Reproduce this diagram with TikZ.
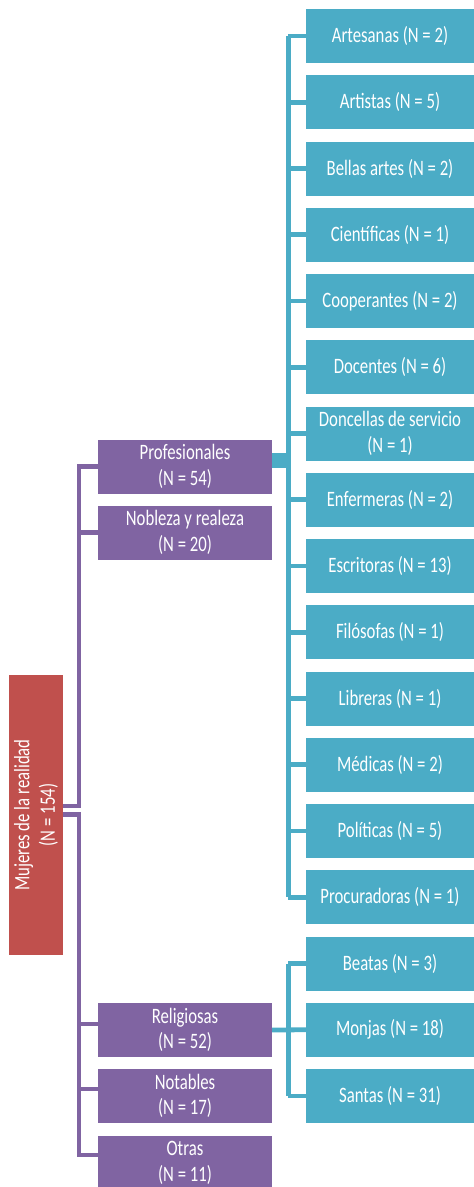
\documentclass[tikz,border=0pt]{standalone}
\usepackage{fontspec}
\setmainfont{Carlito}[FakeStretch=0.76]
\definecolor{pcol}{RGB}{128,100,162}
\definecolor{tcol}{RGB}{75,172,198}
\definecolor{rcol}{RGB}{192,80,77}
\begin{document}
\begin{tikzpicture}[x=1pt,y=-1pt,
  box/.style={rectangle, inner sep=0pt, text=white, align=center, font=\fontsize{22}{25.5}\selectfont},
  pbox/.style={box, fill=pcol, minimum width=174pt, minimum height=54pt},
  tbox/.style={box, fill=tcol, minimum width=168pt, minimum height=54pt},
  rbox/.style={box, fill=rcol, minimum width=280pt, minimum height=54pt, rotate=90},
  pline/.style={draw=pcol, line width=4.5pt},
  tline/.style={draw=tcol, line width=4.8pt}]
\useasboundingbox (0,0) rectangle (474,1187);
\clip (0,0) rectangle (474,1187);
% root
\node[rbox] (root) at (36,815) {Mujeres de la realidad\\(N = 154)};
% purple level
\node[pbox] (p1) at (185,466.5) {Profesionales\\(N = 54)};
\node[pbox] (p2) at (185,532.5) {Nobleza y realeza\\(N = 20)};
\node[pbox] (p3) at (185,1030) {Religiosas\\(N = 52)};
\node[pbox] (p4) at (185,1096) {Notables\\(N = 17)};
\node[pbox] (p5) at (185,1163) {Otras\\(N = 11)};
% teal level
\foreach \i/\t in {1/Artesanas (N = 2),2/Artistas (N = 5),3/Bellas artes (N = 2),4/Científicas (N = 1),5/Cooperantes (N = 2),6/Docentes (N = 6),7/{Doncellas de servicio\\(N = 1)},8/Enfermeras (N = 2),9/Escritoras (N = 13),10/Filósofas (N = 1),11/Libreras (N = 1),12/Médicas (N = 2),13/Políticas (N = 5),14/Procuradoras (N = 1),15/Beatas (N = 3),16/Monjas (N = 18),17/Santas (N = 31)}
  \node[tbox] (t\i) at (390,{36+66.25*(\i-1)}) {\t};
% purple connectors
\draw[pline] ([yshift=9pt]root.south) -| ([xshift=-19pt]p1.west) -- (p1.west);
\draw[pline] (p2.west) -- ([xshift=-19pt]p2.west);
\draw[pline] ([yshift=0.5pt]root.south) -| ([xshift=-19pt,yshift=8pt]p5.west) -- ([yshift=8pt]p5.west);
\draw[pline] ([yshift=6pt]p3.west) -- ([xshift=-19pt,yshift=6pt]p3.west);
\draw[pline] ([yshift=7pt]p4.west) -- ([xshift=-19pt,yshift=7pt]p4.west);
% teal connectors: Profesionales
\draw[tcol, line width=15pt] ([yshift=6pt]p1.east) -- ([xshift=19pt,yshift=6pt]p1.east);
\draw[tline] ([xshift=-17.5pt]t1.west) -- ([xshift=-17.5pt]t14.west);
\foreach \i in {1,...,14}
  \draw[tline] (t\i.west) -- ([xshift=-17.5pt]t\i.west);
% teal connectors: Religiosas
\draw[tline] (p3.east) -- (t16.west);
\draw[tline] ([xshift=-17.5pt]t15.west) -- ([xshift=-17.5pt]t17.west);
\foreach \i in {15,17}
  \draw[tline] (t\i.west) -- ([xshift=-17.5pt]t\i.west);
\end{tikzpicture}
\end{document}
